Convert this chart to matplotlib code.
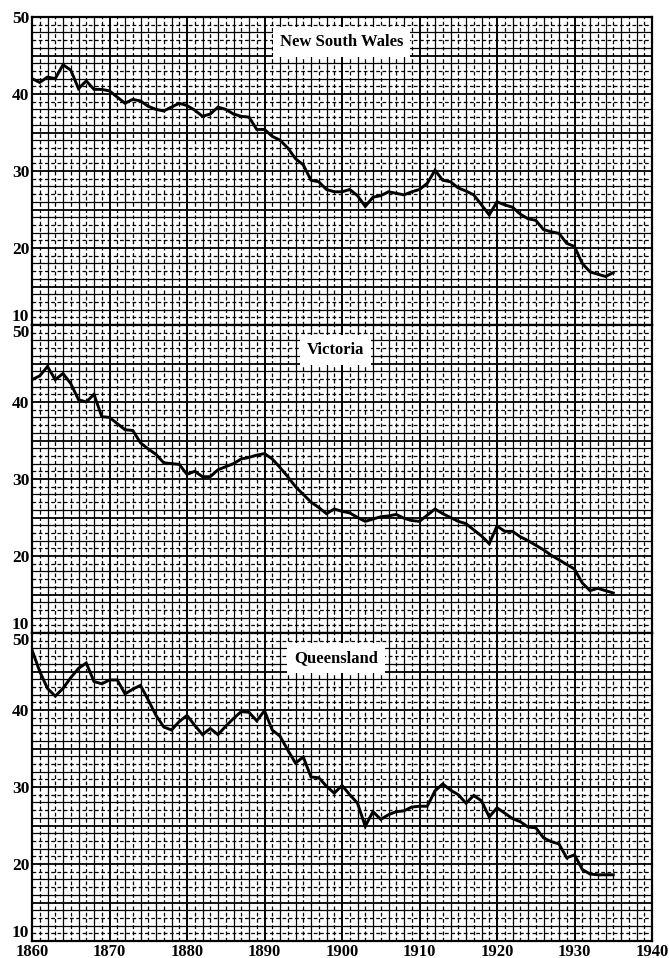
import matplotlib
matplotlib.use("Agg")
import matplotlib.pyplot as plt
import numpy as np

years = list(range(1860, 1936))

nsw = [42.0, 41.5, 42.2, 42.0, 43.8, 43.1, 40.7, 41.7, 40.6, 40.6,
       40.4, 39.6, 38.8, 39.3, 39.1, 38.4, 38.0, 37.8, 38.3, 38.8,
       38.5, 37.9, 37.1, 37.4, 38.3, 38.0, 37.4, 37.1, 37.0, 35.4,
       35.4, 34.5, 34.0, 33.0, 31.6, 30.8, 28.8, 28.6, 27.6, 27.3,
       27.3, 27.6, 26.8, 25.4, 26.6, 26.8, 27.3, 27.1, 26.9, 27.3,
       27.6, 28.4, 30.1, 28.8, 28.6, 27.8, 27.4, 26.9, 25.6, 24.3,
       26.0, 25.6, 25.3, 24.4, 23.8, 23.6, 22.4, 22.1, 21.9, 20.6,
       20.2, 18.0, 16.9, 16.6, 16.3, 16.8]

victoria = [42.9, 43.4, 44.6, 42.9, 43.7, 42.4, 40.3, 40.0, 41.0, 38.1,
            38.0, 37.2, 36.4, 36.3, 34.7, 33.9, 33.2, 32.1, 32.0, 31.9,
            30.6, 31.0, 30.3, 30.3, 31.2, 31.6, 32.0, 32.6, 32.8, 33.1,
            33.3, 32.6, 31.5, 30.3, 29.0, 28.0, 27.0, 26.3, 25.5, 26.1,
            25.8, 25.6, 25.0, 24.5, 24.8, 25.1, 25.2, 25.4, 24.9, 24.6,
            24.5, 25.3, 26.1, 25.5, 25.0, 24.5, 24.2, 23.4, 22.6, 21.6,
            23.9, 23.2, 23.2, 22.5, 22.0, 21.4, 20.8, 20.1, 19.5, 18.9,
            18.3, 16.5, 15.5, 15.8, 15.5, 15.2]

queensland = [47.8, 45.0, 42.8, 41.8, 42.8, 44.2, 45.4, 46.1, 43.7, 43.4,
              43.9, 43.9, 42.1, 42.7, 43.2, 41.3, 39.3, 37.8, 37.4, 38.5,
              39.3, 38.0, 36.8, 37.6, 36.8, 37.9, 38.9, 39.8, 39.7, 38.6,
              39.9, 37.4, 36.6, 34.8, 33.1, 33.9, 31.3, 31.2, 30.1, 29.2,
              30.2, 29.0, 27.9, 24.9, 26.8, 25.8, 26.4, 26.8, 26.9, 27.4,
              27.5, 27.5, 29.5, 30.4, 29.6, 29.0, 27.9, 28.9, 28.2, 26.1,
              27.3, 26.6, 25.9, 25.5, 24.8, 24.7, 23.4, 22.9, 22.6, 20.8,
              21.2, 19.3, 18.7, 18.6, 18.6, 18.6]

titles = ["New South Wales", "Victoria", "Queensland"]
series = [nsw, victoria, queensland]
title_x = [1899.9, 1899.2, 1899.2]
yticks = [10, 20, 30, 40, 50]
xticks = [1860, 1870, 1880, 1890, 1900, 1910, 1920, 1930, 1940]

serif = ["Liberation Serif", "DejaVu Serif"]
fig = plt.figure(figsize=(6.69, 9.58), dpi=100)
left, right = 32 / 669, 652 / 669
top_px, panel_px = 17, 308

for i in range(3):
    y0 = 1 - (top_px + (i + 1) * panel_px) / 958
    ax = fig.add_axes([left, y0, right - left, panel_px / 958])
    ax.set_xlim(1860, 1940)
    ax.set_ylim(10, 50)
    # grid
    for yr in range(1861, 1940):
        if yr % 10 == 0:
            ax.axvline(yr, color="black", lw=1.4, zorder=1)
        elif yr % 2 == 0:
            ax.axvline(yr, color="black", lw=0.9, zorder=1)
        else:
            ax.axvline(yr, color="black", lw=0.9, ls=(0, (3, 2)), zorder=1)
    for v in range(11, 50):
        if v % 5 == 0:
            ax.axhline(v, color="black", lw=1.3, zorder=1)
        elif v % 2 == 0:
            ax.axhline(v, color="black", lw=0.9, zorder=1)
        else:
            ax.axhline(v, color="black", lw=0.9, ls=(0, (3, 2)), zorder=1)
    ax.plot(years, series[i], color="black", lw=2.1, zorder=3,
            solid_joinstyle="miter")
    ax.text(title_x[i], 46.75, titles[i], ha="center", va="center",
            family=serif, fontweight="bold", fontsize=12, zorder=4,
            bbox=dict(facecolor="white", edgecolor="none", pad=5))
    for s in ax.spines.values():
        s.set_linewidth(1.6)
    ax.set_yticks(yticks)
    ax.tick_params(length=0, pad=2)
    ax.set_yticklabels([str(t) for t in yticks], family=serif,
                       fontweight="bold", fontsize=12.5)
    labs = ax.get_yticklabels()
    labs[0].set_va("bottom")
    if i > 0:
        labs[-1].set_va("top")
    if i == 2:
        ax.set_xticks(xticks)
        ax.set_xticklabels([str(t) for t in xticks], family=serif,
                           fontweight="bold", fontsize=12)
    else:
        ax.set_xticks([])

fig.savefig("out.png", dpi=100)
